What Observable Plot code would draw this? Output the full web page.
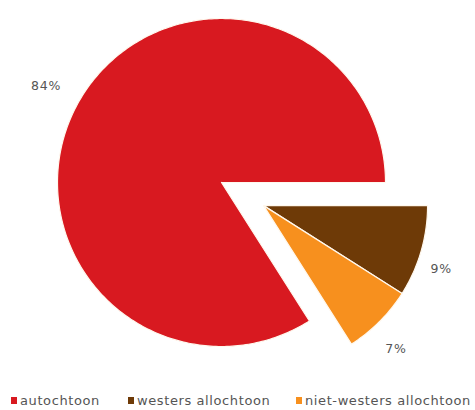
<!DOCTYPE html>
<html>
<head>
<meta charset="utf-8">
<script src="https://cdn.jsdelivr.net/npm/d3@7"></script>
<script src="https://cdn.jsdelivr.net/npm/@observablehq/plot@0.6"></script>
<style>
  html, body { margin: 0; padding: 0; background: #fff; }
  #chart svg { display: block; }
  .legend { font-family: "DejaVu Sans", Verdana, sans-serif; font-size: 13px; letter-spacing: 0.6px; color: #555; height: 25px; position: relative; }
  .legend span.item { position: absolute; top: 8px; white-space: nowrap; }
  .legend span.sw { display: inline-block; width: 6px; height: 7px; margin-right: 3px; vertical-align: 1px; }
</style>
</head>
<body>
<div id="chart"></div>
<div class="legend" id="legend"></div>
<script>
const categories = ["autochtoon", "westers allochtoon", "niet-westers allochtoon"];
const values = [84, 9, 7];
const labels = ["84%", "9%", "7%"];
const colors = ["#d81920", "#6e3a07", "#f7901e"];
const exploded = [false, true, true];

const W = 475, H = 385;
const cx = 221, cy = 182, R = 164;   // pixel layout of pie centre and radius
const explode = 48 / R;              // explode distance in radius units
const startAngle = Math.PI / 2;      // first slice starts at 3 o'clock

const total = d3.sum(values);
const order = [1, 2, 0];
let a = startAngle;
const slices = [];
for (const i of order) {
  const span = values[i] / total * 2 * Math.PI;
  slices[i] = {i, a0: a, a1: a + span};
  a += span;
}
const exA0 = d3.min(slices.filter(s => exploded[s.i]), s => s.a0);
const exA1 = d3.max(slices.filter(s => exploded[s.i]), s => s.a1);
const exMid = (exA0 + exA1) / 2;
const ox = Math.sin(exMid) * explode, oy = Math.cos(exMid) * explode;

const pts = [];
for (const s of slices) {
  const dx = exploded[s.i] ? ox : 0, dy = exploded[s.i] ? oy : 0;
  pts.push({cat: categories[s.i], x: dx, y: dy});
  const n = Math.max(8, Math.ceil((s.a1 - s.a0) * 60));
  for (let k = 0; k <= n; k++) {
    const t = s.a0 + (s.a1 - s.a0) * k / n;
    pts.push({cat: categories[s.i], x: dx + Math.sin(t), y: dy + Math.cos(t)});
  }
  pts.push({cat: categories[s.i], x: dx, y: dy});
}

const labelR = [1.22, 1.15, 1.19];
const labelShift = [0, 3.4, 2.3].map(d => d * Math.PI / 180);
const labelPts = slices.map(s => {
  const dx = exploded[s.i] ? ox : 0, dy = exploded[s.i] ? oy : 0;
  const m = (s.a0 + s.a1) / 2 + labelShift[s.i];
  return {label: labels[s.i], x: dx + Math.sin(m) * labelR[s.i], y: dy + Math.cos(m) * labelR[s.i]};
});

const chart = Plot.plot({
  width: W, height: H,
  margin: 0,
  x: {domain: [-cx / R, (W - cx) / R], range: [0, W], axis: null},
  y: {domain: [-(H - cy) / R, cy / R], range: [H, 0], axis: null},
  color: {domain: categories, range: colors},
  style: {background: "#fff"},
  marks: [
    Plot.line(pts, {x: "x", y: "y", z: "cat", fill: "cat", stroke: "#fff8ee", strokeWidth: 1.2, curve: "linear"}),
    Plot.text(labelPts, {x: "x", y: "y", text: "label", fill: "#555", fontSize: 12.5, fontFamily: "DejaVu Sans, Verdana, sans-serif"})
  ]
});
chart.querySelectorAll("text").forEach(t => t.style.letterSpacing = "0.8px");
document.getElementById("chart").appendChild(chart);

const legendX = [11, 128, 296];
const leg = document.getElementById("legend");
categories.forEach((c, i) => {
  const it = document.createElement("span");
  it.className = "item";
  it.style.left = legendX[i] + "px";
  it.innerHTML = `<span class="sw" style="background:${colors[i]}"></span>${c}`;
  leg.appendChild(it);
});
</script>
</body>
</html>
